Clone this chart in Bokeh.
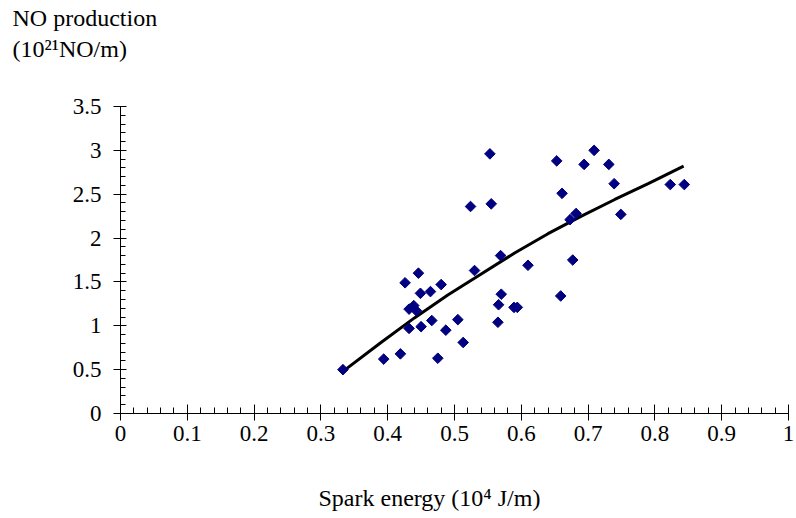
from bokeh.plotting import figure
from bokeh.models import Title, SingleIntervalTicker, Range1d
from bokeh.embed import file_html
from bokeh.resources import INLINE
import numpy as np

spark_energy = [0.333, 0.394, 0.419, 0.475, 0.446, 0.426, 0.480, 0.449, 0.464, 0.530,
                0.432, 0.439, 0.443, 0.432, 0.450, 0.466, 0.487, 0.505, 0.513, 0.553,
                0.555, 0.569, 0.610, 0.570, 0.566, 0.589, 0.594, 0.565, 0.653, 0.709,
                0.694, 0.731, 0.661, 0.739, 0.682, 0.673, 0.749, 0.823, 0.844, 0.677,
                0.659, 0.524]
no_production = [0.50, 0.62, 0.68, 0.63, 1.60, 1.49, 1.47, 1.37, 1.39, 1.63,
                 1.19, 1.23, 1.17, 0.97, 0.99, 1.06, 0.95, 1.07, 0.81, 2.96,
                 2.39, 1.80, 1.69, 1.36, 1.24, 1.21, 1.21, 1.04, 2.88, 3.00,
                 2.84, 2.84, 2.51, 2.62, 2.28, 2.21, 2.27, 2.61, 2.61, 1.75,
                 1.34, 2.36]

trend_x = [0.333, 0.39, 0.44, 0.49, 0.54, 0.59, 0.64, 0.69, 0.74, 0.79, 0.843]
trend_y = [0.48, 0.81, 1.09, 1.35, 1.59, 1.83, 2.05, 2.25, 2.44, 2.62, 2.82]

x_ticks = [0, 0.1, 0.2, 0.3, 0.4, 0.5, 0.6, 0.7, 0.8, 0.9, 1]
x_tick_labels = ["0", "0.1", "0.2", "0.3", "0.4", "0.5", "0.6", "0.7", "0.8", "0.9", "1"]
y_ticks = [0, 0.5, 1, 1.5, 2, 2.5, 3, 3.5]
y_tick_labels = ["0", "0.5", "1", "1.5", "2", "2.5", "3", "3.5"]

y_title = "NO production\n(10\u00b2\u00b9NO/m)"
x_title = "Spark energy (10\u2074 J/m)"

FONT = "Liberation Serif"
W, H = 796, 518

p = figure(width=W, height=H, output_backend="svg", toolbar_location=None,
           x_range=Range1d(0, 1), y_range=Range1d(0, 3.5),
           min_border_left=120, min_border_right=8, min_border_top=106, min_border_bottom=105)
p.background_fill_color = "white"
p.border_fill_color = "white"
p.outline_line_color = None
p.grid.visible = False

p.xaxis.ticker = SingleIntervalTicker(interval=0.1, num_minor_ticks=5)
p.yaxis.ticker = SingleIntervalTicker(interval=0.5, num_minor_ticks=5)
p.xaxis.major_label_overrides = {t: l for t, l in zip(x_ticks, x_tick_labels)}
p.yaxis.major_label_overrides = {t: l for t, l in zip(y_ticks, y_tick_labels)}

for ax in (p.xaxis[0], p.yaxis[0]):
    ax.axis_line_color = "black"
    ax.axis_line_width = 1
    ax.major_tick_line_color = "black"
    ax.minor_tick_line_color = "black"
    ax.major_label_text_font = FONT
    ax.major_label_text_font_size = "23px"
    ax.major_label_text_color = "black"

p.xaxis.major_tick_in = 9
p.xaxis.major_tick_out = 7
p.xaxis.minor_tick_in = 6
p.xaxis.minor_tick_out = 0
p.xaxis.major_label_standoff = 5

p.yaxis.major_tick_in = 6
p.yaxis.major_tick_out = 7
p.yaxis.minor_tick_in = 5
p.yaxis.minor_tick_out = 0
p.yaxis.major_label_standoff = 12

p.line(trend_x, trend_y, line_color="black", line_width=3)
p.scatter(spark_energy, no_production, marker="square", angle=np.pi / 4, size=7.5,
          fill_color="#000080", line_color="#000080")

def spacer(size):
    return Title(text=" ", text_font=FONT, text_font_size=size, standoff=0)

p.above.insert(0, spacer("37px"))
p.add_layout(Title(text=y_title, align="left", offset=-108, vertical_align="top", standoff=0,
                   text_font=FONT, text_font_size="24px", text_font_style="normal",
                   text_color="black", text_line_height=1.2), "above")

p.below.append(spacer("29px"))
p.add_layout(Title(text=x_title, align="left", offset=198,
                   text_font=FONT, text_font_size="24px", text_font_style="normal",
                   text_color="black"), "below")

open("out.html", "w").write(file_html(p, INLINE))
